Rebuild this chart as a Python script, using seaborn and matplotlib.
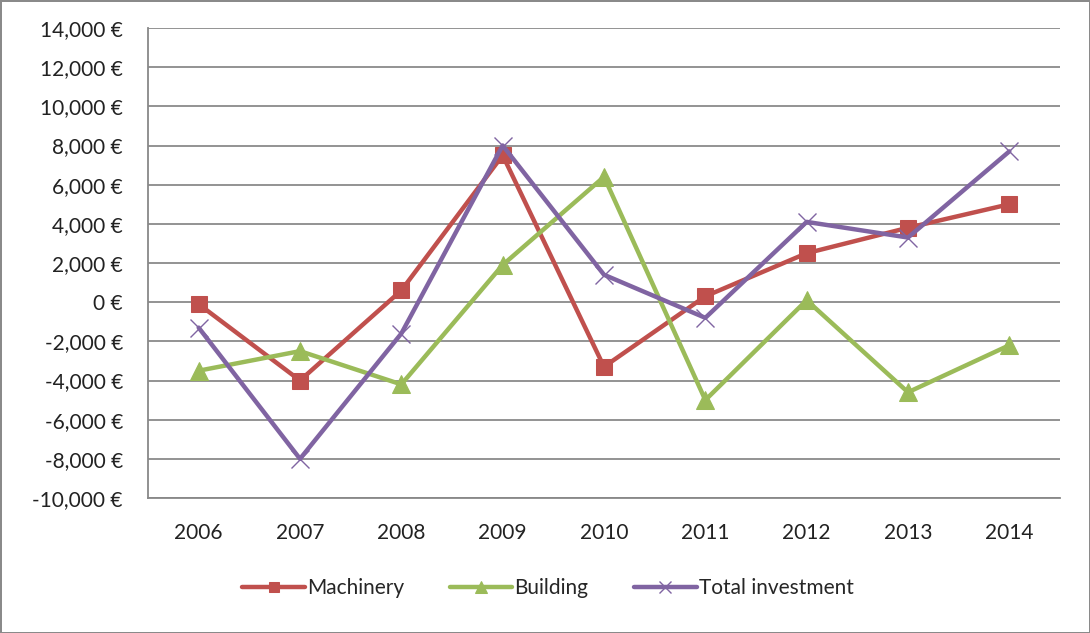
import numpy as np
import pandas as pd
import matplotlib
matplotlib.use("Agg")
import matplotlib.pyplot as plt
import seaborn as sns
from matplotlib.ticker import FuncFormatter, FixedLocator

years = ["2006", "2007", "2008", "2009", "2010", "2011", "2012", "2013", "2014"]
machinery = [-100, -4000, 600, 7500, -3300, 300, 2500, 3800, 5000]
building = [-3500, -2500, -4200, 1900, 6400, -5000, 100, -4600, -2200]
total_investment = [-1300, -8000, -1600, 8000, 1400, -800, 4100, 3300, 7700]

sns.set_style("white")
plt.rcParams["font.family"] = ["Lato", "DejaVu Sans"]

fig = plt.figure(figsize=(10.9, 6.33), dpi=100)
ax = fig.add_axes([148 / 1090, 1 - 498 / 633, 912 / 1090, 470 / 633])

pos = np.arange(len(years))
series = [
    ("Machinery", machinery, "#C0504D", "s", 12, None),
    ("Building", building, "#9BBB59", "^", 13, None),
    ("Total investment", total_investment, "#8064A2", "x", 13, 1.0),
]
for name, vals, color, mk, ms, mew in series:
    kw = dict(markersize=ms, markeredgecolor=color, markerfacecolor=color)
    if mew is not None:
        kw["markeredgewidth"] = mew
    sns.lineplot(x=pos, y=vals, ax=ax, color=color, linewidth=3.2,
                 marker=mk, label=name, **kw)

ax.set_xlim(-0.5, len(years) - 0.5)
ax.set_ylim(-10000, 14000)
ax.yaxis.set_major_locator(FixedLocator(np.arange(-10000, 14001, 2000)))
ax.yaxis.set_major_formatter(FuncFormatter(lambda v, p: f"{v:,.0f} €".replace("−", "-")))
ax.set_xticks(pos)
ax.set_xticklabels(years)
ax.set_xticks(np.arange(-0.5, len(years), 1), minor=True)
ax.tick_params(axis="x", which="major", length=0, pad=18, labelsize=15, colors="#222222")
ax.tick_params(axis="x", which="minor", length=6, width=1.3, color="#888888", direction="out")
ax.tick_params(axis="y", length=8, width=1.3, color="#888888", direction="out",
               labelsize=15, pad=10, labelcolor="#222222")

ax.grid(axis="y", color="#8a8a8a", linewidth=1.3)
ax.set_axisbelow(True)
for s in ["top", "right"]:
    ax.spines[s].set_visible(False)
for s in ["left", "bottom"]:
    ax.spines[s].set_color("#888888")
    ax.spines[s].set_linewidth(1.3)
ax.set_xlabel("")
ax.set_ylabel("")

handles, labels = ax.get_legend_handles_labels()
ax.get_legend().remove()
fig.legend(handles, labels, loc="center", bbox_to_anchor=(548 / 1090, 1 - 588 / 633),
           ncol=3, frameon=False, fontsize=15, handlelength=3.0, handletextpad=0.1,
           columnspacing=2.2, markerscale=0.65)

fig.patch.set_edgecolor("#8a8a8a")
fig.patch.set_linewidth(2)

fig.savefig("out.png", dpi=100)
